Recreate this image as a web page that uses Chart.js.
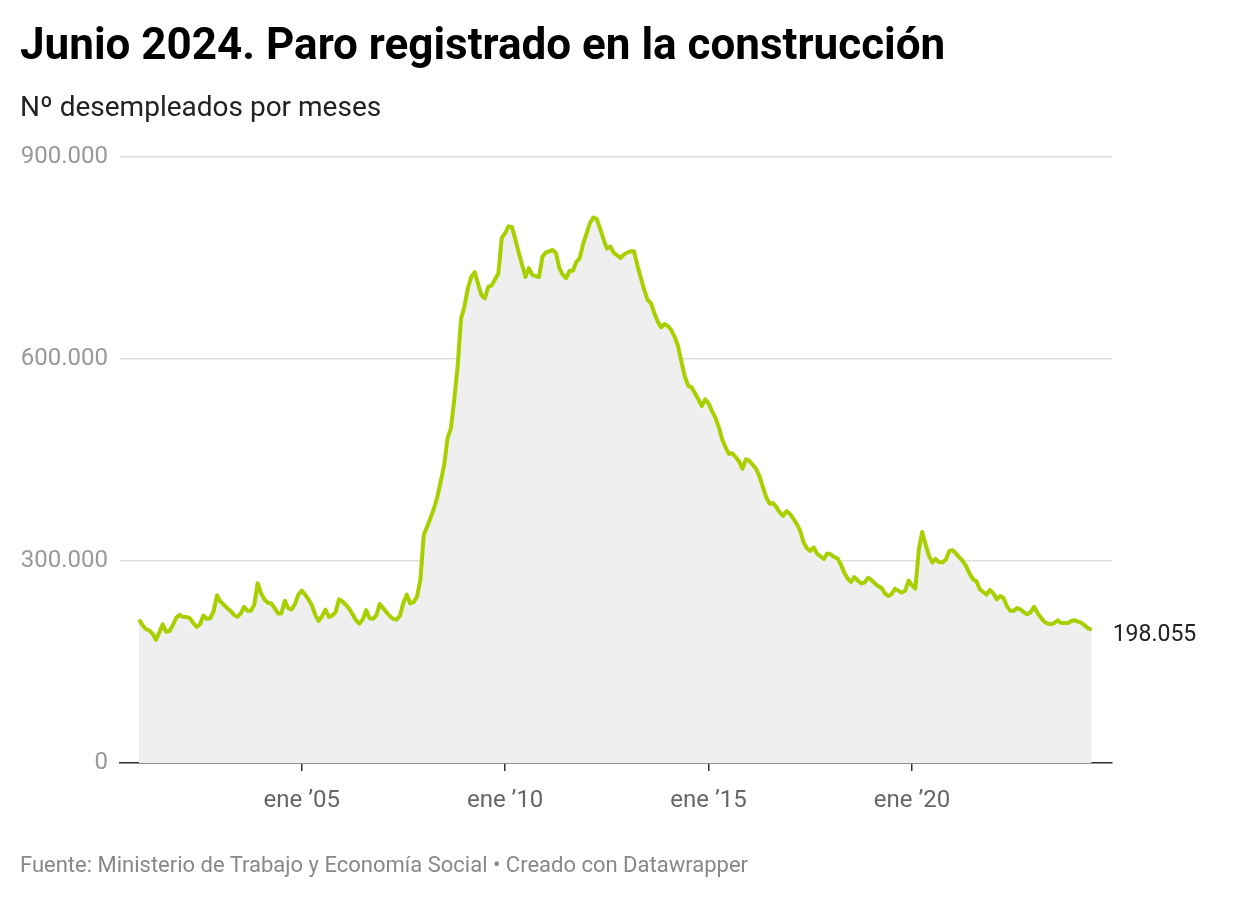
<!DOCTYPE html>
<html lang="es">
<head>
<meta charset="utf-8">
<title>Paro registrado en la construcción</title>
<script src="https://cdn.jsdelivr.net/npm/chart.js@4/dist/chart.umd.min.js"></script>
<style>
  body { margin: 0; background: #fff; }
  #wrap { position: relative; width: 1240px; height: 900px; font-family: Roboto, sans-serif; }
  #c { position: absolute; left: 0; top: 0; }
  .txt { position: absolute; left: 20px; white-space: nowrap; }
  #titulo { top: 18px; font-weight: 700; font-size: 44px; color: #000; }
  #sub { top: 90px; font-size: 28px; color: #222; }
  #fuente { top: 852px; font-size: 22px; color: #888; }
</style>
</head>
<body>
<div id="wrap">
  <canvas id="c" width="1240" height="900"></canvas>
  <div class="txt" id="titulo">Junio 2024. Paro registrado en la construcción</div>
  <div class="txt" id="sub">Nº desempleados por meses</div>
  <div class="txt" id="fuente">Fuente: Ministerio de Trabajo y Economía Social • Creado con Datawrapper</div>
</div>
<script>
// datos: parados registrados en construcción (miles), enero 2001 - junio 2024
const meses = ["ene", "feb", "mar", "abr", "may", "jun", "jul", "ago", "sep", "oct", "nov", "dic"];
const anioInicio = 2001;
const paro = [
  213, 205, 199, 197, 192, 183, 194, 206, 195, 196, 205, 216,   // 2001
  220, 217, 217, 215, 208, 202, 206, 219, 214, 215, 225, 249,   // 2002
  240, 235, 230, 226, 220, 217, 222, 232, 226, 226, 235, 267,   // 2003
  252, 243, 238, 237, 230, 222, 222, 241, 230, 228, 236, 250,   // 2004
  256, 250, 243, 234, 220, 211, 218, 228, 217, 219, 224, 243,   // 2005
  240, 235, 229, 221, 212, 207, 213, 227, 215, 214, 219, 236,   // 2006
  230, 224, 218, 214, 213, 219, 238, 250, 237, 239, 247, 272,   // 2007
  339, 351, 364, 378, 395, 418, 442, 482, 497, 540, 590, 660,   // 2008
  678, 705, 722, 729, 712, 695, 690, 707, 709, 718, 727, 780,   // 2009
  787, 797, 796, 778, 758, 740, 722, 735, 725, 723, 722, 752,   // 2010
  758, 760, 762, 757, 735, 725, 720, 731, 731, 744, 750, 771,   // 2011
  786, 802, 810, 808, 794, 778, 764, 767, 758, 754, 750, 755,   // 2012
  758, 760, 760, 739, 721, 703, 688, 683, 668, 656, 647, 652,   // 2013
  649, 643, 633, 619, 596, 574, 560, 558, 549, 540, 530, 540,   // 2014
  534, 523, 513, 499, 481, 469, 459, 460, 454, 448, 437, 451,   // 2015
  449, 443, 437, 426, 410, 395, 385, 386, 380, 372, 367, 374,   // 2016
  370, 363, 355, 345, 328, 319, 315, 320, 311, 307, 303, 311,   // 2017
  310, 306, 304, 295, 283, 274, 269, 276, 271, 267, 268, 275,   // 2018
  272, 267, 263, 260, 252, 248, 251, 259, 256, 253, 256, 271,   // 2019
  264, 259, 316, 343, 325, 308, 298, 303, 298, 298, 302, 315,   // 2020
  316, 311, 305, 300, 292, 281, 273, 270, 258, 254, 250, 257,   // 2021
  252, 243, 248, 245, 233, 226, 226, 230, 228, 224, 221, 224,   // 2022
  232, 223, 216, 210, 207, 206, 208, 212, 208, 208, 208, 211,   // 2023
  212, 210, 208, 204, 200, 198.055                              // 2024
];
const ticksX = ["ene 2005", "ene 2010", "ene 2015", "ene 2020"];
const ticksXTexto = ["ene ’05", "ene ’10", "ene ’15", "ene ’20"];
const ticksY = [0, 300, 600, 900];

const fechas = paro.map((_, i) => meses[i % 12] + " " + (anioInicio + Math.floor(i / 12)));
const puntos = paro.map((v, i) => ({ x: i, y: v }));
const posTicksX = ticksX.map(f => fechas.indexOf(f));

// 900000 -> "900.000"
function formatoES(n) {
  return String(Math.round(n)).replace(/\B(?=(\d{3})+(?!\d))/g, ".");
}

// etiqueta con el último valor a la derecha de la línea
const etiquetaFinal = {
  id: "etiquetaFinal",
  afterDatasetsDraw(chart) {
    const meta = chart.getDatasetMeta(0);
    const pt = meta.data[meta.data.length - 1];
    const ctx = chart.ctx;
    ctx.save();
    ctx.font = "23px Roboto";
    ctx.fillStyle = "#222";
    ctx.textBaseline = "middle";
    ctx.textAlign = "left";
    ctx.fillText(formatoES(paro[paro.length - 1] * 1000), pt.x + 21, pt.y + 6);
    ctx.restore();
  }
};

new Chart(document.getElementById("c"), {
  type: "line",
  data: {
    datasets: [{
      data: puntos,
      borderColor: "#a8d000",
      borderWidth: 4,
      backgroundColor: "#efefef",
      fill: "origin",
      pointRadius: 0,
      tension: 0,
      borderJoinStyle: "round"
    }]
  },
  options: {
    animation: false,
    responsive: false,
    maintainAspectRatio: false,
    layout: { padding: { top: 157, right: 128, left: 0, bottom: 0 } },
    plugins: {
      legend: { display: false },
      tooltip: { enabled: false }
    },
    scales: {
      x: {
        type: "linear",
        min: -5.6,
        max: 287,
        afterBuildTicks: (scale) => { scale.ticks = posTicksX.map(v => ({ value: v })); },
        afterFit: (scale) => { scale.height = 137; },
        ticks: {
          autoSkip: false,
          maxRotation: 0,
          padding: 16,
          color: "#666",
          font: { family: "Roboto", size: 24 },
          callback: (v) => ticksXTexto[posTicksX.indexOf(v)]
        },
        grid: { drawOnChartArea: false, drawTicks: true, tickLength: 8, color: "#333", lineWidth: 1.5 },
        border: { display: true, color: "#333", width: 1.5 }
      },
      y: {
        min: 0,
        max: 900,
        afterBuildTicks: (scale) => { scale.ticks = ticksY.map(v => ({ value: v })); },
        afterFit: (scale) => { scale.width = 120; },
        ticks: {
          padding: 12,
          color: "#999",
          font: { family: "Roboto", size: 24 },
          callback: (v) => formatoES(v * 1000)
        },
        grid: { drawTicks: false, color: "#dddddd", lineWidth: 1.5 },
        border: { display: false }
      }
    }
  },
  plugins: [etiquetaFinal]
});
</script>
</body>
</html>
